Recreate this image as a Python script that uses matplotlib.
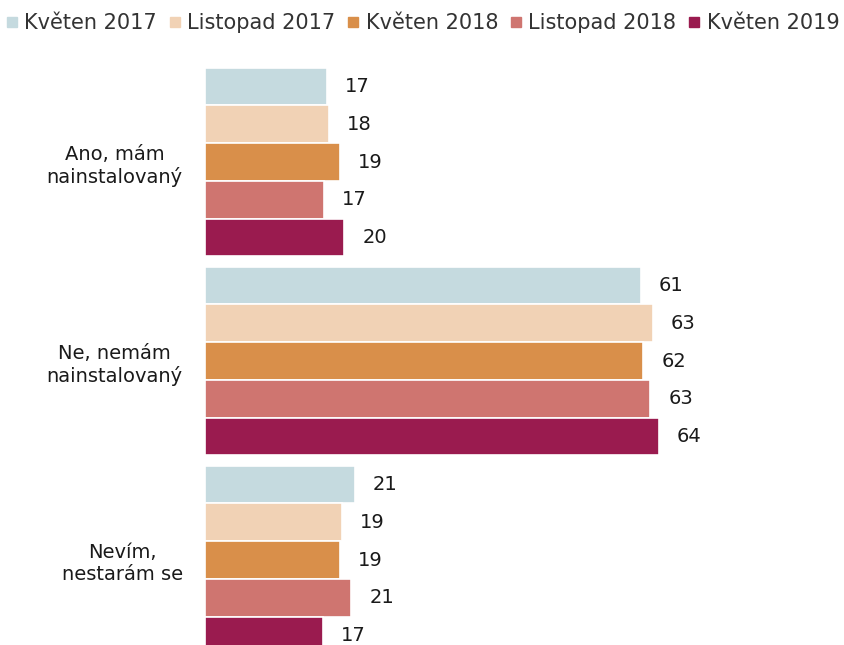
import matplotlib.pyplot as plt
from matplotlib.lines import Line2D

# data
kategorie = ['Ano, mám\nnainstalovaný', 'Ne, nemám\nnainstalovaný', 'Nevím,\nnestarám se']
obdobi = ['Květen 2017', 'Listopad 2017', 'Květen 2018', 'Listopad 2018', 'Květen 2019']
hodnoty = [
    [17.2, 61.4, 21.1],   # Květen 2017
    [17.5, 63.1, 19.3],   # Listopad 2017
    [19.0, 61.7, 19.0],   # Květen 2018
    [16.8, 62.7, 20.6],   # Listopad 2018
    [19.6, 63.9, 16.6],   # Květen 2019
]
barvy = ['#c5dadf', '#f1d2b5', '#d98f4a', '#cf7570', '#9a1b4f']

plt.rcParams['font.family'] = ['DejaVu Sans']

fig = plt.figure(figsize=(8.45, 6.45), dpi=100)
ax = fig.add_axes([205 / 845, 0, 640 / 845, 585 / 645])

krok = 0.1895
for i, (nazev, vals) in enumerate(zip(obdobi, hodnoty)):
    y = [g + (i - 2) * krok for g in range(len(kategorie))]
    bars = ax.barh(y, vals, height=krok, color=barvy[i], edgecolor='white',
                   linewidth=1.2, label=nazev)
    for b, v in zip(bars, vals):
        ax.annotate(f'{v:.0f}', (b.get_width(), b.get_y() + b.get_height() / 2),
                    xytext=(13, 0), textcoords='offset points',
                    va='center', ha='left', fontsize=14, color='#1a1a1a')

ax.set_xlim(0, 640 / 7.1)
ax.set_ylim((645 - 162) / 199, (60 - 162) / 199)
ax.set_yticks(range(len(kategorie)))
ax.set_yticklabels(kategorie, fontsize=14, color='#1a1a1a', multialignment='center')
ax.tick_params(axis='y', length=0, pad=16)
ax.set_xticks([])
for s in ax.spines.values():
    s.set_visible(False)

handles = [Line2D([], [], marker='s', linestyle='none', markersize=7.5,
                  markerfacecolor=c, markeredgecolor=c) for c in barvy]
fig.legend(handles, obdobi, loc='center', bbox_to_anchor=(0.5, 1 - 23 / 645),
           ncol=5, frameon=False, fontsize=15, handlelength=0.6,
           handletextpad=0.3, columnspacing=0.55, labelcolor='#333333',
           borderaxespad=0)

fig.savefig('out.png', dpi=100)
